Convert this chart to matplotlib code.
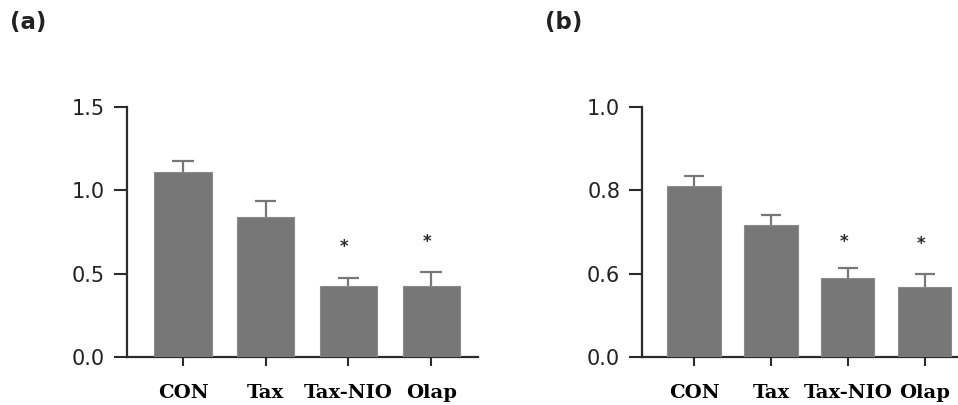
import numpy as np
import matplotlib.pyplot as plt

# Groups and bar heights (mean) with upper error (SD)
grupos = ["CON", "Tax", "Tax-NIO", "Olap"]

medias_a = [1.11, 0.84, 0.43, 0.43]
errores_a = [0.065, 0.095, 0.047, 0.08]
estrella_a = [None, None, 0.66, 0.69]

medias_b = [0.81, 0.716, 0.569, 0.509]
errores_b = [0.025, 0.026, 0.045, 0.091]
estrella_b = [None, None, 0.676, 0.671]

# Panel (b) uses a segmented y axis: 0-0.6, 0.6-0.8, 0.8-1.0 get equal room
cortes_b = [0.0, 0.6, 0.8, 1.0]
posiciones_b = [0, 1, 2, 3]

gris = "#777777"
eje = "#2b2b2b"


def escala_ida(y):
    return np.interp(y, cortes_b, posiciones_b)


def escala_vuelta(y):
    return np.interp(y, posiciones_b, cortes_b)


def panel(ax, medias, errores, estrellas, xlim):
    x = np.arange(len(grupos))
    ax.bar(x, medias, width=0.69, color=gris, edgecolor="#8a8a8a", linewidth=0.8, zorder=3)
    tope = np.array(medias) + np.array(errores)
    ax.vlines(x, medias, tope, color=gris, linewidth=1.6, zorder=2)
    ax.hlines(tope, x - 0.13, x + 0.13, color=gris, linewidth=1.6, zorder=2)
    for xi, s in zip(x, estrellas):
        if s is not None:
            ax.text(xi - 0.05, s, "*", ha="center", va="center", fontsize=12,
                    family="DejaVu Sans", fontweight="bold", color="#2b2b2b")
    ax.set_xlim(*xlim)
    ax.set_xticks(x)
    ax.set_xticklabels(grupos, family="DejaVu Serif", fontweight="bold", fontsize=14)
    for lado in ["top", "right"]:
        ax.spines[lado].set_visible(False)
    for lado in ["left", "bottom"]:
        ax.spines[lado].set_linewidth(1.6)
        ax.spines[lado].set_color(eje)
    ax.tick_params(axis="y", length=9.5, width=1.5, pad=6, color=eje, labelsize=15)
    ax.tick_params(axis="x", length=6.5, width=1.5, pad=13, color=eje)


fig = plt.figure(figsize=(9.58, 4.05), dpi=100)

ax1 = fig.add_axes([0.1323, 0.1178, 0.367, 0.618])
panel(ax1, medias_a, errores_a, estrella_a, (-0.68, 3.57))
ax1.set_ylim(0, 1.5)
ax1.set_yticks([0.0, 0.5, 1.0, 1.5])
ax1.set_yticklabels(["0.0", "0.5", "1.0", "1.5"], family="DejaVu Sans", fontsize=15,
                    color="#222222")

ax2 = fig.add_axes([0.6698, 0.1178, 0.3302, 0.618])
ax2.set_yscale("function", functions=(escala_ida, escala_vuelta))
panel(ax2, medias_b, errores_b, estrella_b, (-0.68, 3.43))
ax2.set_ylim(0, 1.0)
ax2.set_yticks([0.0, 0.6, 0.8, 1.0])
ax2.set_yticklabels(["0.0", "0.6", "0.8", "1.0"], family="DejaVu Sans", fontsize=15,
                    color="#222222")
ax2.minorticks_off()

fig.text(0.010, 0.945, "(a)", fontsize=16.5, fontweight="bold", family="DejaVu Sans",
         va="center", color="#222222")
fig.text(0.569, 0.945, "(b)", fontsize=16.5, fontweight="bold", family="DejaVu Sans",
         va="center", color="#222222")

fig.savefig("out.png", dpi=100)
